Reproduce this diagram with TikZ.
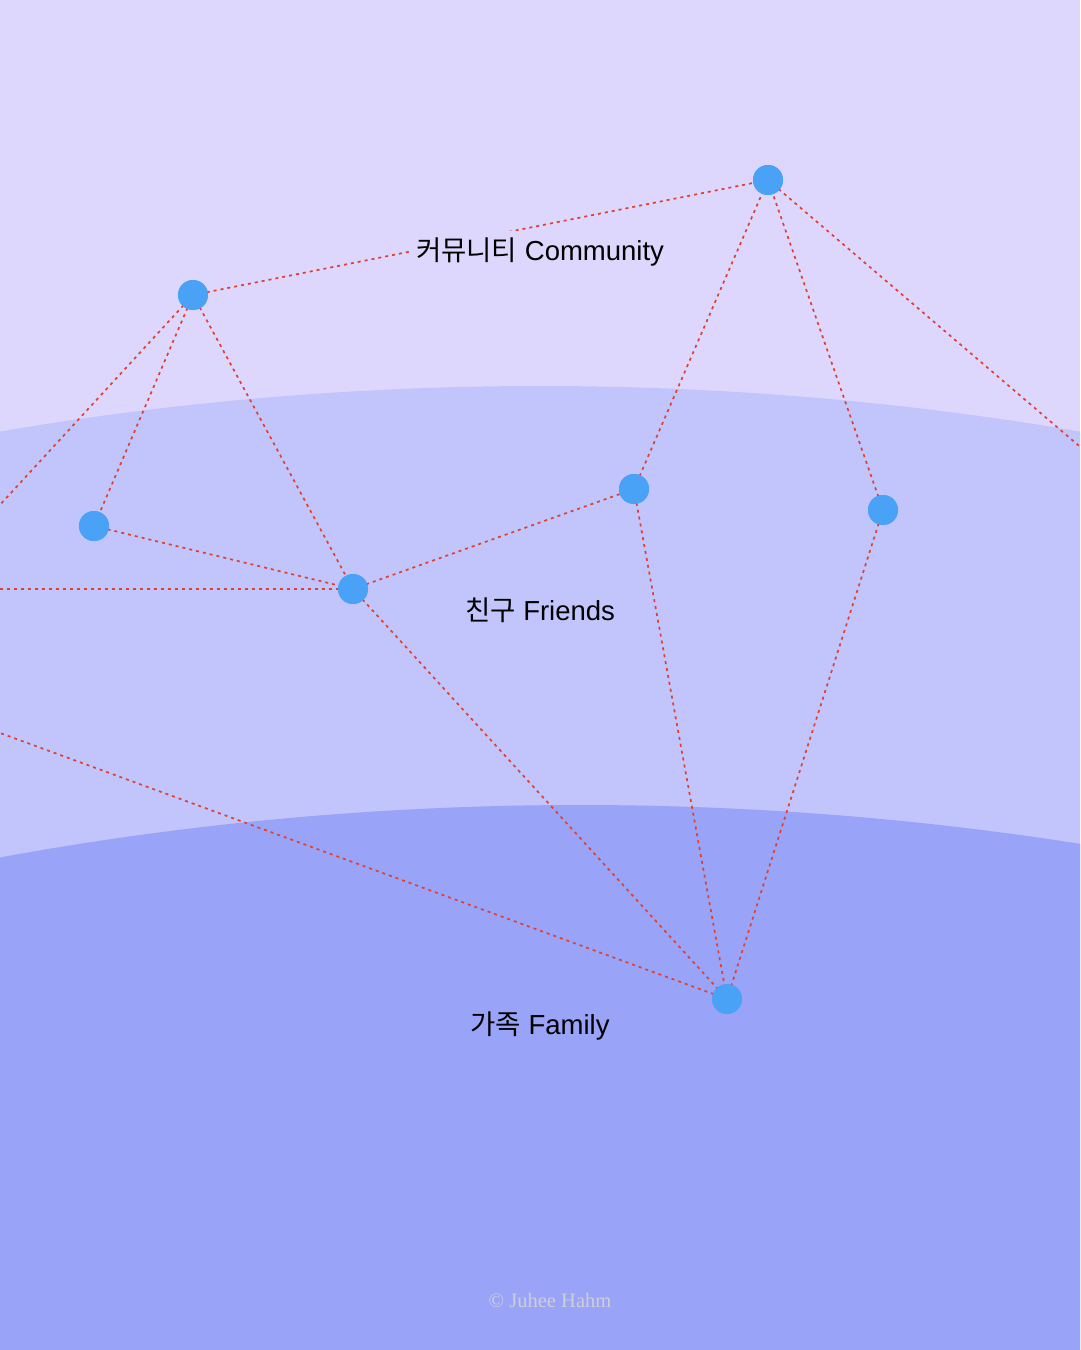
\documentclass[tikz,border=0pt]{standalone}
\usepackage{fontspec}
\setmainfont{Liberation Sans}
\newfontfamily\krfont{Noto Sans CJK KR}
\newfontfamily\footfont{Liberation Serif}
\definecolor{bgtop}{HTML}{DDD7FE}
\definecolor{bgmid}{HTML}{C1C5FB}
\definecolor{bgbot}{HTML}{99A3F8}
\definecolor{dot}{HTML}{4AA2F6}
\definecolor{link}{HTML}{E0402F}
\definecolor{foot}{HTML}{CFCFD6}
\tikzset{
  person/.style={circle,fill=dot,minimum size=30pt,inner sep=0pt},
  tie/.style={draw=link,line width=1.7pt,dash pattern=on 3pt off 4pt},
  ring/.style={font=\fontsize{27.5}{32}\selectfont,text=black,inner sep=7pt},
}
\begin{document}
\begin{tikzpicture}[x=1pt,y=-1pt]
\useasboundingbox (0,0) rectangle (1080,1350);
\begin{scope}
\clip (0,0) rectangle (1080,1350);
\fill[bgtop] (0,0) rectangle (1080,1350);
\fill[bgmid] (540,3576) circle[radius=3190pt];
\fill[bgbot] (580,4005) circle[radius=3200pt];

\coordinate (offA) at (-60,570);
\coordinate (offD) at (-60,589);
\coordinate (offG) at (-60,711);
\coordinate (offB) at (1140,498);

\node[person] (A) at (193,295) {};
\node[person] (B) at (768,180) {};
\node[person] (C) at (94,526) {};
\node[person] (D) at (353,589) {};
\node[person] (E) at (634,489) {};
\node[person] (F) at (883,510) {};
\node[person] (G) at (727,999) {};

\draw[tie] (A.center) -- (B.center);
\draw[tie] (A.center) -- (offA);
\draw[tie] (A.center) -- (C.center);
\draw[tie] (A.center) -- (D.center);
\draw[tie] (C.center) -- (D.center);
\draw[tie] (D.center) -- (offD);
\draw[tie] (D.center) -- (E.center);
\draw[tie] (D.center) -- (G.center);
\draw[tie] (E.center) -- (B.center);
\draw[tie] (E.center) -- (G.center);
\draw[tie] (F.center) -- (B.center);
\draw[tie] (F.center) -- (G.center);
\draw[tie] (B.center) -- (offB);
\draw[tie] (G.center) -- (offG);

\foreach \p in {A,B,C,D,E,F,G}
  \fill[dot] (\p.center) circle[radius=15pt];

\node[ring,fill=bgtop] (community) at (540,252) {{\krfont 커뮤니티} Community};
\node[ring] (friends) at (540,610) {{\krfont 친구} Friends};
\node[ring] (family) at (540,1026) {{\krfont 가족} Family};
\node[font=\footfont\fontsize{20.5}{24}\selectfont,text=foot] (credit) at (550,1300) {© Juhee Hahm};
\end{scope}
\end{tikzpicture}
\end{document}
